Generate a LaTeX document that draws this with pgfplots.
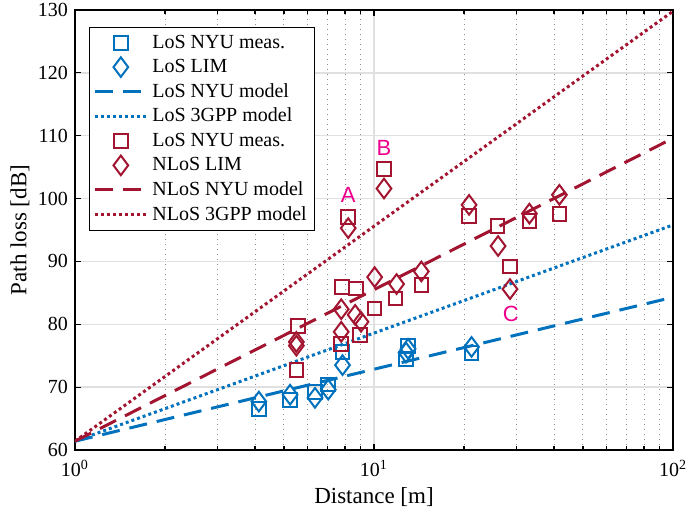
\documentclass[border=0pt]{standalone}
\usepackage{fontspec}
\setmainfont{Liberation Serif}
\newfontfamily\labelfont{Liberation Sans}
\usepackage{pgfplots}
\pgfplotsset{compat=1.18}

\definecolor{mblue}{RGB}{0,114,189}
\definecolor{mred}{RGB}{162,20,47}

\pgfplotsset{
  markleg/.style={legend image code/.code={\draw[##1] plot coordinates {(13pt,0pt)};}},
  lineleg/.style={legend image code/.code={\draw[##1] (0pt,0pt) -- (26pt,0pt);}},
}

\begin{document}
\begin{tikzpicture}
\begin{axis}[
  scale only axis,
  width=299pt, height=220pt,
  xmode=log, xmin=1, xmax=100,
  ymin=60, ymax=130,
  ytick={60,70,...,130},
  xtick={1,10,100},
  xticklabels={10\textsuperscript{0},10\textsuperscript{1},10\textsuperscript{2}},
  /pgf/number format/assume math mode=true,
  tick label style={font=\fontsize{10}{12}\selectfont},
  xticklabel style={yshift=-1.5pt},
  xlabel={Distance [m]},
  ylabel={Path loss [dB]},
  every axis x label/.style={at={(axis description cs:0.5,-0.107)}, anchor=center,
    font=\fontsize{11.5}{13}\selectfont},
  every axis y label/.style={at={(axis description cs:-0.092,0.5)}, rotate=90, anchor=center,
    font=\fontsize{11.5}{13}\selectfont},
  grid=both,
  minor y tick num=0,
  major grid style={line width=0.7pt, black!12},
  minor grid style={line width=0.5pt, black!45, dotted},
  tick align=inside,
  major tick length=3pt,
  minor tick length=2pt,
  tick style={black, line width=0.6pt},
  axis line style={line width=0.8pt},
  legend cell align=left,
  legend style={at={(0.023,0.961)}, anchor=north west,
    draw=black, line width=0.6pt, font=\fontsize{10}{12}\selectfont,
    row sep=0pt, inner xsep=2pt, inner ysep=1.5pt},
]
% LoS measurements
\addplot[only marks, mark=square, mark size=3.4pt, mblue, line width=1pt, markleg]
  coordinates {(4.12,66.5) (5.24,68.0) (6.35,69.2) (7.03,70.4) (7.85,75.6)
               (12.8,74.5) (13.0,76.5) (21.2,75.4)};
\addlegendentry{LoS NYU meas.}
\addplot[only marks, mark=diamond, mark size=4.9pt, mblue, line width=1pt, markleg]
  coordinates {(4.12,67.7) (5.24,68.8) (6.35,68.3) (7.03,69.6) (7.85,73.5)
               (12.8,75.5) (13.0,76.1) (21.2,76.4)};
\addlegendentry{LoS LIM}
\addplot[mblue, line width=1.5pt, dash pattern=on 9pt off 5pt, lineleg]
  coordinates {(1,61.4) (100,84.3)};
\addlegendentry{LoS NYU model}
\addplot[mblue, line width=1.5pt, dash pattern=on 1.5pt off 1.5pt, lineleg]
  coordinates {(1,61.4) (100,95.8)};
\addlegendentry{LoS 3GPP model}
% NLoS measurements
\addplot[only marks, mark=square, mark size=3.4pt, mred, line width=1pt, markleg]
  coordinates {(5.5,72.7) (5.58,79.7) (7.77,76.9) (7.8,85.9) (8.2,97.1)
               (8.7,85.7) (8.97,78.3) (10.05,82.5) (10.8,104.7) (11.8,84.1)
               (14.4,86.25) (20.8,97.2) (25.9,95.6) (28.5,89.2) (33.1,96.4) (41.7,97.5)};
\addlegendentry{LoS NYU meas.}
\addplot[only marks, mark=diamond, mark size=4.9pt, mred, line width=1pt, markleg]
  coordinates {(5.5,77.2) (5.5,76.6) (7.77,82.4) (7.77,78.8) (8.2,95.3)
               (8.65,81.5) (9.05,80.4) (10.05,87.5) (10.8,101.6) (11.9,86.4)
               (14.4,88.4) (20.8,99.0) (26.0,92.45) (28.5,85.6) (33.1,97.6) (41.7,100.6)};
\addlegendentry{NLoS LIM}
\addplot[mred, line width=1.5pt, dash pattern=on 9pt off 5pt, lineleg]
  coordinates {(1,61.4) (100,109.6)};
\addlegendentry{NLoS NYU model}
\addplot[mred, line width=1.5pt, dash pattern=on 1.5pt off 1.5pt, lineleg]
  coordinates {(1,61.4) (100,129.8)};
\addlegendentry{NLoS 3GPP model}

\node[magenta, font=\labelfont\fontsize{11}{12}\selectfont] at (axis cs:8.2,100.6) {A};
\node[magenta, font=\labelfont\fontsize{11}{12}\selectfont] at (axis cs:10.8,108.0) {B};
\node[magenta, font=\labelfont\fontsize{11}{12}\selectfont] at (axis cs:28.7,81.6) {C};
\end{axis}
\pgfresetboundingbox
\path ([shift={(-37.5pt,-32.5pt)}]current axis.south west)
  rectangle ([shift={(8pt,5pt)}]current axis.north east);
\end{tikzpicture}
\end{document}
